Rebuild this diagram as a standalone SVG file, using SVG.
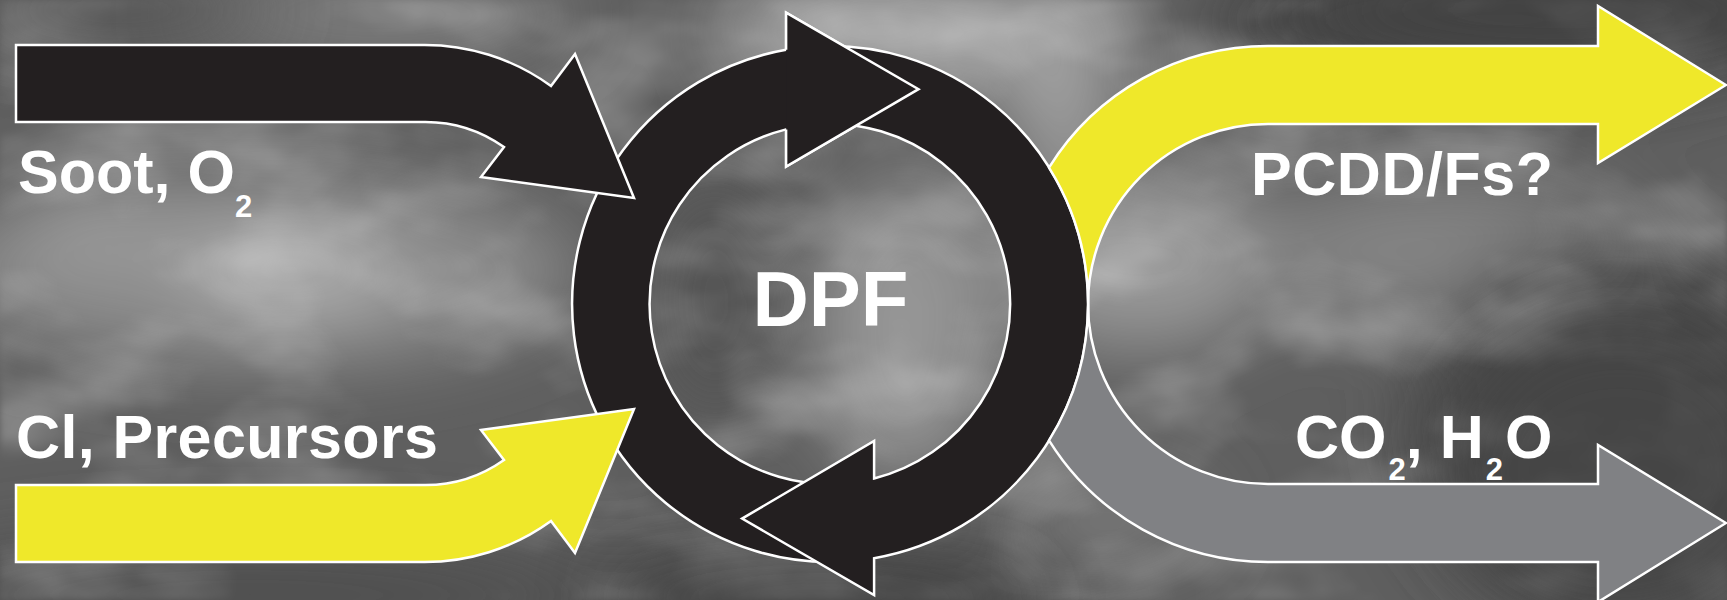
<svg xmlns="http://www.w3.org/2000/svg" width="1727" height="600" viewBox="0 0 1727 600">
  <defs>
    <style>
      .outline { stroke: #ffffff; stroke-width: 2.5; stroke-linejoin: miter; stroke-miterlimit: 10; }
      .black { fill: #231f20; }
      .yellow { fill: #efe82a; }
      .grey { fill: #808184; }
      .label { font-family: "Liberation Sans", Arial, Helvetica, sans-serif; font-weight: bold; fill: #ffffff; }
      .main { font-size: 61px; }
      .sub { font-size: 31px; }
    </style>
    <filter id="soft" x="-20%" y="-20%" width="140%" height="140%">
      <feGaussianBlur stdDeviation="38"/>
    </filter>
    <filter id="wisps" x="0" y="0" width="100%" height="100%">
      <feTurbulence type="fractalNoise" baseFrequency="0.006 0.011" numOctaves="4" seed="11" result="n"/>
      <feColorMatrix in="n" type="matrix" values="0 0 0 0 1  0 0 0 0 1  0 0 0 0 1  2.2 0 0 0 -0.95"/>
      <feGaussianBlur stdDeviation="3"/>
    </filter>
  </defs>

  <!-- cloudy grey sky -->
  <g id="background">
    <rect x="0" y="0" width="1727" height="600" fill="#5f5f5f"/>
    <g filter="url(#soft)">
      <ellipse cx="380" cy="15" rx="200" ry="45" fill="#7e7e7e"/>
      <ellipse cx="880" cy="30" rx="160" ry="60" fill="#a6a6a6"/>
      <ellipse cx="1060" cy="70" rx="60" ry="110" fill="#a0a0a0"/>
      <ellipse cx="260" cy="270" rx="320" ry="95" fill="#8c8c8c"/>
      <ellipse cx="290" cy="270" rx="110" ry="50" fill="#ababab"/>
      <ellipse cx="100" cy="220" rx="80" ry="40" fill="#9c9c9c"/>
      <ellipse cx="250" cy="595" rx="360" ry="60" fill="#4f4f4f"/>
      <ellipse cx="1500" cy="20" rx="300" ry="75" fill="#444444"/>
      <ellipse cx="1140" cy="260" rx="140" ry="90" fill="#989898"/>
      <ellipse cx="1450" cy="250" rx="200" ry="70" fill="#848484"/>
      <ellipse cx="1610" cy="430" rx="200" ry="190" fill="#474747"/>
      <ellipse cx="830" cy="595" rx="260" ry="45" fill="#454545"/>
      <ellipse cx="715" cy="300" rx="70" ry="130" fill="#555555"/>
      <ellipse cx="905" cy="330" rx="90" ry="150" fill="#959595"/>
      <ellipse cx="1110" cy="520" rx="100" ry="40" fill="#7c7c7c"/>
    </g>
    <rect x="0" y="0" width="1727" height="600" filter="url(#wisps)" opacity="0.28"/>
    <!-- darker patches of sky laid over the wisps -->
    <g filter="url(#soft)" opacity="0.65">
      <ellipse cx="1560" cy="10" rx="260" ry="55" fill="#424242"/>
      <ellipse cx="1620" cy="470" rx="170" ry="150" fill="#444444"/>
      <ellipse cx="820" cy="600" rx="220" ry="35" fill="#434343"/>
      <ellipse cx="120" cy="10" rx="160" ry="35" fill="#525252"/>
    </g>
  </g>

  <!-- DPF: cycle ring made of two curved arrows -->
  <g id="dpf">
    <path class="black outline" d="M842.6,483.6 L848.0,561.4 A258,258 0 0 1 786.1,49.8 L786.1,12.6 L918.5,89.2 L786.1,166.5 L786.1,129.4 A180,180 0 0 0 842.6,483.6 Z"/>
    <path class="black outline" d="M812.0,46.6 A258,258 0 0 1 874.1,558.2 L874.1,595.1 L742.1,518.6 L874.1,440.9 L874.1,478.5 A180,180 0 0 0 817.4,124.4 Z"/>
    <!-- upper head laid over the tail of the right-hand arrow -->
    <polygon class="black" points="786.1,12.6 918.5,89.2 786.1,166.5"/>
    <polyline class="outline" fill="none" points="786.1,129.4 786.1,166.5 918.5,89.2 786.1,12.6 786.1,49.8"/>
    <text class="label" x="830.5" y="326" font-size="78" text-anchor="middle">DPF</text>
  </g>

  <!-- flows into and out of the filter -->
  <g id="connectors">
    <path id="flow-pcdd" class="yellow outline" d="M1049,167.6 A258,258 0 0 1 1268,46 L1598,46 L1598,6 L1726,85 L1598,163 L1598,124 L1268,124 A180,180 0 0 0 1088,304 A258,258 0 0 0 1049,167.6 Z"/>
    <path id="flow-co2" class="grey outline" d="M1049,440.4 A258,258 0 0 0 1268,562 L1598,562 L1598,602 L1726,523 L1598,445 L1598,484 L1268,484 A180,180 0 0 1 1088,304 A258,258 0 0 1 1049,440.4 Z"/>
    <path id="flow-soot" class="black outline" d="M16,45 L420,45 A215,215 0 0 1 551,86 L575,54 L634,198 L481,177 L504,147 A137,137 0 0 0 420,122 L16,122 Z"/>
    <path id="flow-cl" class="yellow outline" d="M16,562 L420,562 A215,215 0 0 0 551,521 L575,553 L634,409 L481,430 L504,460 A137,137 0 0 1 420,485 L16,485 Z"/>
  </g>

  <g id="label-soot">
    <text class="label main" x="18" y="193">Soot, O<tspan class="sub" dy="24">2</tspan></text>
  </g>
  <g id="label-cl">
    <text class="label main" x="16" y="458" textLength="422">Cl, Precursors</text>
  </g>
  <g id="label-pcdd">
    <text class="label main" x="1251" y="195" textLength="302">PCDD/Fs?</text>
  </g>
  <g id="label-co2">
    <text class="label main" x="1295" y="457.5">CO<tspan class="sub" dx="2" dy="22">2</tspan><tspan dy="-22">, H</tspan><tspan class="sub" dx="2" dy="22">2</tspan><tspan dx="2" dy="-22">O</tspan></text>
  </g>
</svg>
